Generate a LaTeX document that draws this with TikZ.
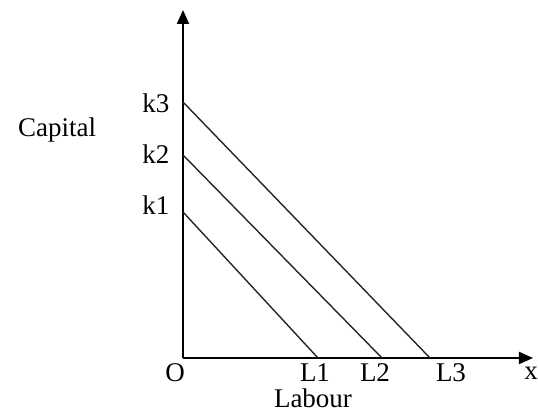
\documentclass[tikz,border=0pt]{standalone}
\usepackage{fontspec}
\setmainfont{Liberation Serif}
\usetikzlibrary{arrows.meta,positioning}
\tikzset{
    myaxis/.style={line width=1pt,draw=black,-{Triangle[length=7pt,width=6pt]}},
    myline/.style={line width=0.7pt,draw=black!85},
    mylabel/.style={text=black,inner sep=0pt},
    every node/.style={font=\fontsize{13.5}{15}\selectfont}
}
\begin{document}
\begin{tikzpicture}[x=0.5pt,y=0.5pt]
    \useasboundingbox (0,0) rectangle (538,411);

    \coordinate (O) at (183,53);
    \coordinate (ytop) at (183,401);
    \coordinate (xend) at (533,53);

    \coordinate (k1) at (183,199);
    \coordinate (k2) at (183,256);
    \coordinate (k3) at (183,309);

    \coordinate (L1) at (318,53);
    \coordinate (L2) at (382,53);
    \coordinate (L3) at (430,53);

    % axes
    \draw[myaxis] (O)--(ytop);
    \draw[myaxis] (O)--(xend);

    % lines
    \draw[myline] (k1)--(L1);
    \draw[myline] (k2)--(L2);
    \draw[myline] (k3)--(L3);

    % labels
    \node[mylabel] (lk3) at (156,308) {k3};
    \node[mylabel] (lk2) at (156,257) {k2};
    \node[mylabel] (lk1) at (156,206) {k1};

    \node[mylabel] (lO) at (175,38) {O};
    \node[mylabel] (lL1) at (315,38) {L1};
    \node[mylabel] (lL2) at (375,38) {L2};
    \node[mylabel] (lL3) at (451,38) {L3};
    \node[mylabel,anchor=west] (lx) at (524,38) {x};

    \node[mylabel] (cap) at (57,281) {Capital};
    \node[mylabel,anchor=base] (lab) at (313,3) {Labour};
\end{tikzpicture}
\end{document}
